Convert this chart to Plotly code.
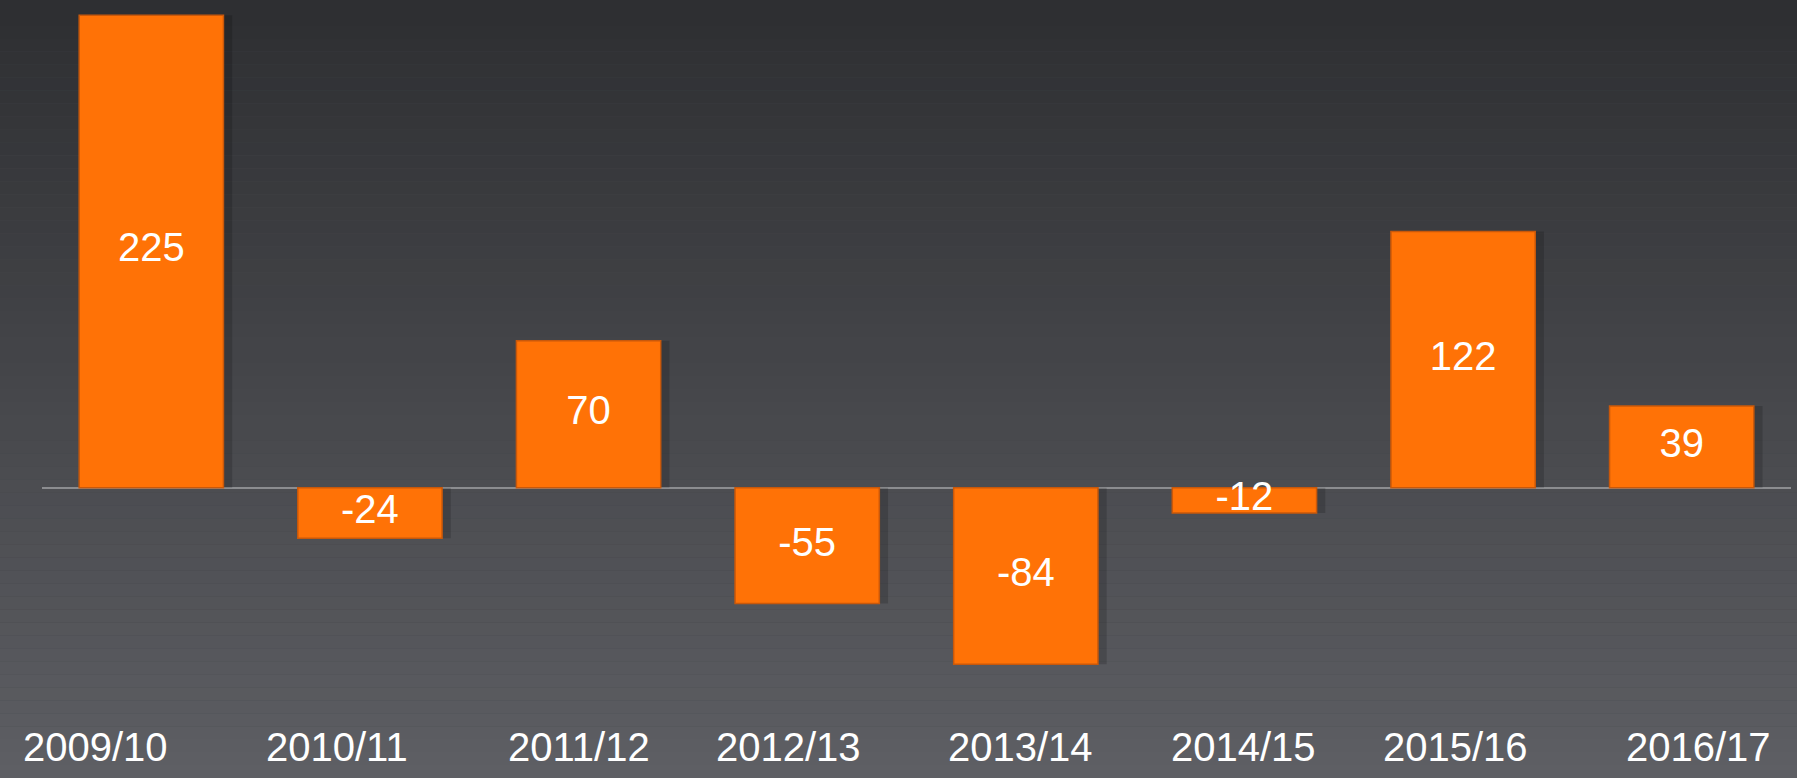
import plotly.graph_objs as go

# Data
seasons = ["2009/10", "2010/11", "2011/12", "2012/13", "2013/14", "2014/15", "2015/16", "2016/17"]
values = [225, -24, 70, -55, -84, -12, 122, 39]

# label positions (pixel centres along the bottom, the labels are not aligned with bars)
label_px = [95, 337, 579, 788, 1020, 1243, 1455, 1698]

W, H = 1797, 778
PLOT_L, PLOT_R = 42, 1791

fig = go.Figure()

# soft shadow behind each bar
fig.add_trace(go.Bar(
    x=seasons, y=values,
    marker=dict(color="rgba(0,0,0,0.16)", line=dict(width=0)),
    offset=-0.31, width=0.68,
    hoverinfo="skip", showlegend=False
))

fig.add_trace(go.Bar(
    x=seasons, y=values,
    marker=dict(color="#FF7206", line=dict(color="#C9580A", width=1.5)),
    width=0.66,
    hoverinfo="skip", showlegend=False
))

# value labels centred in each bar
fig.add_trace(go.Scatter(
    x=seasons, y=[v / 2 for v in values],
    mode="text", text=[str(v) for v in values],
    textfont=dict(family="Liberation Sans, Arial", size=40, color="white"),
    hoverinfo="skip", showlegend=False
))

# background gradient (dark top -> lighter bottom)
top = (46, 47, 50)
bottom = (94, 95, 100)
n = 60
shapes = []
for i in range(n):
    t = i / (n - 1)
    c = tuple(int(top[k] + (bottom[k] - top[k]) * t) for k in range(3))
    shapes.append(dict(
        type="rect", xref="paper", yref="paper",
        x0=-0.05, x1=1.05, y0=1 - (i + 1) / n, y1=1 - i / n,
        fillcolor="rgb(%d,%d,%d)" % c, line=dict(width=0), layer="below"
    ))

annotations = []
for s, px in zip(seasons, label_px):
    annotations.append(dict(
        x=(px - PLOT_L) / (PLOT_R - PLOT_L), y=(H - 747) / H,
        xref="paper", yref="paper", text=s, showarrow=False,
        xanchor="center", yanchor="middle",
        font=dict(family="Liberation Sans, Arial", size=40, color="white")
    ))

fig.update_layout(
    width=W, height=H,
    margin=dict(l=PLOT_L, r=W - PLOT_R, t=0, b=0),
    paper_bgcolor="#46474b",
    plot_bgcolor="rgba(0,0,0,0)",
    barmode="overlay",
    bargap=0.34,
    shapes=shapes,
    annotations=annotations,
    xaxis=dict(showticklabels=False, showgrid=False, zeroline=False, showline=False,
               range=[-0.5, 7.5]),
    yaxis=dict(range=[-138.1, 232.2], showticklabels=False, showgrid=False,
               zeroline=True, zerolinecolor="#8c8d90", zerolinewidth=2),
    showlegend=False
)

fig.write_html("out.html", config={"displayModeBar": False},
               post_script="document.body.style.margin='0';")
